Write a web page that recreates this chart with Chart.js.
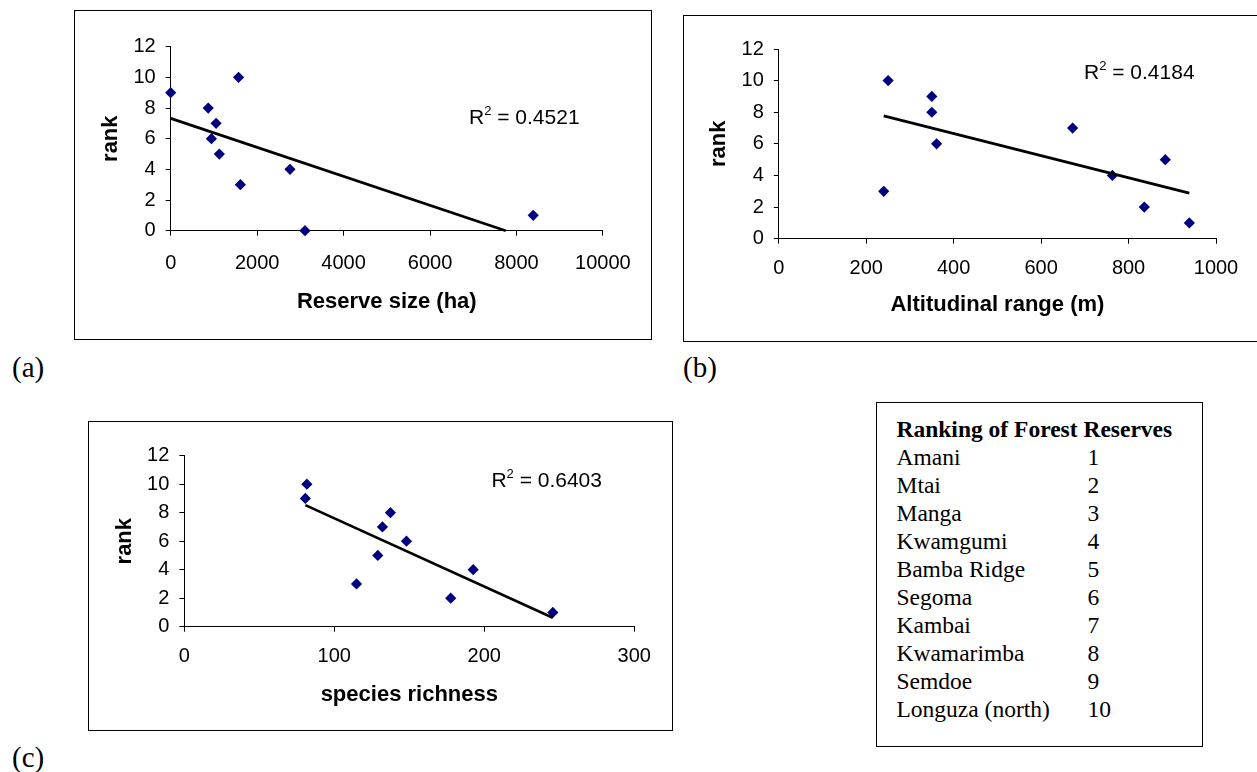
<!DOCTYPE html>
<html>
<head>
<meta charset="utf-8">
<script src="https://cdn.jsdelivr.net/npm/chart.js@4.4.1/dist/chart.umd.min.js"></script>
<style>
html,body{margin:0;padding:0;background:#fff;}
body{width:1257px;height:772px;overflow:hidden;position:relative;}
.frame{position:absolute;border:1.5px solid #000;box-sizing:border-box;pointer-events:none;}
.r2{position:absolute;font-family:"Liberation Sans",Arial,sans-serif;font-size:21px;line-height:24px;white-space:nowrap;color:#000;}
.r2 sup{font-size:13px;line-height:0;vertical-align:9px;}
.panelLabel{position:absolute;font-family:"Liberation Serif","Times New Roman",serif;font-size:29px;line-height:32px;color:#000;}
#legendBox{position:absolute;left:876px;top:402px;width:327px;height:345px;border:1.5px solid #000;box-sizing:border-box;
  padding:12.4px 0 0 19.5px;font-family:"Liberation Serif","Times New Roman",serif;font-size:23.5px;line-height:28px;color:#000;}
#legendBox .ttl{font-weight:bold;white-space:nowrap;}
#legendBox .row{white-space:nowrap;}
#legendBox .nm{display:inline-block;width:191px;}
</style>
</head>
<body>
<script>
// ---------- data ----------
const reserveSizeHa     = [0, 868, 942, 1050, 1125, 1570, 1612, 2760, 3107, 8388];
const rankBySize        = [9, 8, 6, 7, 5, 10, 3, 4, 0, 1];

const altitudinalRangeM = [250, 240, 350, 350, 361, 672, 763, 836, 884, 939];
const rankByAltitude    = [10, 3, 9, 8, 6, 7, 4, 2, 5, 1];

const speciesRichness   = [81.7, 80.7, 137.4, 132.1, 148.1, 129, 192.6, 114.8, 177.6, 245.7];
const rankByRichness    = [10, 9, 8, 7, 6, 5, 4, 3, 2, 1];

const r2Values = ['0.4521', '0.4184', '0.6403'];
const xTitles  = ['Reserve size (ha)', 'Altitudinal range (m)', 'species richness'];
const yTitle   = 'rank';
const xMaxes   = [10000, 1000, 300];
const xSteps   = [2000, 200, 100];
const yMax = 12, yStep = 2;

const tableTitle   = 'Ranking of Forest Reserves';
const reserveNames = ['Amani','Mtai','Manga','Kwamgumi','Bamba Ridge','Segoma','Kambai','Kwamarimba','Semdoe','Longuza (north)'];
const reserveRanks = [1, 2, 3, 4, 5, 6, 7, 8, 9, 10];
const panelLetters = ['(a)', '(b)', '(c)'];

// ---------- layout (page pixels) ----------
const layouts = [
  {box:{l:74,t:10,r:652,b:340}, plot:{l:170.7,t:46.7,r:602.9,b:230.7}, rankX:110.7, xTickY:263, xTitleY:301.7, r2:{x:469,y:117}},
  {box:{l:683,t:15,r:1262,b:342}, plot:{l:778.8,t:49,r:1216,b:238.7}, rankX:718.6, xTickY:268, xTitleY:305, r2:{x:1084,y:71.7}},
  {box:{l:88,t:421,r:673,b:731}, plot:{l:184.3,t:455.7,r:634.3,b:626.7}, rankX:125, xTickY:656.7, xTitleY:695, r2:{x:491.4,y:480}}
];
const letterPos = [{x:12,y:370},{x:683,y:370},{x:12,y:760}];

Chart.defaults.font.family = '"Liberation Sans", Arial, sans-serif';
Chart.defaults.color = '#000';

function linearFit(xs, ys) {
  const n = xs.length;
  const mx = xs.reduce((a,b)=>a+b,0)/n, my = ys.reduce((a,b)=>a+b,0)/n;
  let sxy = 0, sxx = 0;
  for (let i = 0; i < n; i++) { sxy += (xs[i]-mx)*(ys[i]-my); sxx += (xs[i]-mx)*(xs[i]-mx); }
  const m = sxy/sxx;
  return {m, b: my - m*mx};
}
function trendPoints(xs, ys) {
  const f = linearFit(xs, ys);
  let x0 = Math.min(...xs), x1 = Math.max(...xs);
  let y0 = f.m*x0 + f.b, y1 = f.m*x1 + f.b;
  if (y1 < 0) { x1 = -f.b / f.m; y1 = 0; }
  if (y0 < 0) { x0 = -f.b / f.m; y0 = 0; }
  return [{x:x0, y:y0}, {x:x1, y:y1}];
}

function makePanel(i, xs, ys) {
  const L = layouts[i];
  const W = L.box.r - L.box.l, H = L.box.b - L.box.t;
  const cv = document.createElement('canvas');
  cv.width = W; cv.height = H;
  cv.style.cssText = `position:absolute;left:${L.box.l}px;top:${L.box.t}px;width:${W}px;height:${H}px;`;
  document.body.appendChild(cv);
  const fr = document.createElement('div');
  fr.className = 'frame';
  fr.style.cssText = `left:${L.box.l}px;top:${L.box.t}px;width:${W}px;height:${H}px;`;
  document.body.appendChild(fr);

  const yAxisW = L.plot.l - L.box.l;
  const xAxisH = L.box.b - L.plot.b;
  const tickFont = {size:20, lineHeight:1.2};
  const titleFont = {size:22, weight:'bold', lineHeight:1.2};
  const plain = v => String(v);

  new Chart(cv, {
    type: 'scatter',
    data: {
      datasets: [
        {type:'line', data: trendPoints(xs, ys), borderColor:'#000', borderWidth:2.7, pointRadius:0,
         pointHoverRadius:0, fill:false, tension:0, order:0, clip:false},
        {type:'scatter', data: xs.map((x,k)=>({x, y: ys[k]})), pointStyle:'rectRot', pointRadius:5.6, pointHoverRadius:5.6,
         backgroundColor:'#000080', borderColor:'#000080', borderWidth:0, order:1, clip:false}
      ]
    },
    options: {
      responsive:false, animation:false, devicePixelRatio:1, events:[],
      layout:{padding:{left:0, top:L.plot.t - L.box.t, right:L.box.r - L.plot.r, bottom:0}},
      plugins:{legend:{display:false}, tooltip:{enabled:false}, title:{display:false}},
      scales:{
        x:{type:'linear', position:'bottom', min:0, max:xMaxes[i],
          ticks:{stepSize:xSteps[i], autoSkip:false, maxRotation:0, minRotation:0, color:'#000', font:tickFont,
                 padding: L.xTickY - L.plot.b - 5 - 12, callback: plain},
          grid:{drawOnChartArea:false, drawTicks:true, tickLength:5, color:'#000', lineWidth:1},
          border:{display:true, color:'#000', width:1},
          title:{display:true, text:xTitles[i], color:'#000', font:titleFont,
                 padding:{top:0, bottom: L.box.b - L.xTitleY - 13.2}},
          afterFit(s){ s.height = xAxisH; }
        },
        y:{type:'linear', position:'left', min:0, max:yMax,
          ticks:{stepSize:yStep, autoSkip:false, color:'#000', font:tickFont, padding:10, callback: plain},
          grid:{drawOnChartArea:false, drawTicks:true, tickLength:5, color:'#000', lineWidth:1},
          border:{display:true, color:'#000', width:1},
          title:{display:true, text:yTitle, color:'#000', font:titleFont,
                 padding:{top: L.rankX - L.box.l - 13.2, bottom:0}},
          afterFit(s){ s.width = yAxisW; }
        }
      }
    }
  });

  const r2 = document.createElement('div');
  r2.className = 'r2';
  r2.style.left = L.r2.x + 'px';
  r2.style.top = (L.r2.y - 11.7) + 'px';
  r2.innerHTML = 'R<sup>2</sup> = ' + r2Values[i];
  document.body.appendChild(r2);

  const lab = document.createElement('div');
  lab.className = 'panelLabel';
  lab.style.left = letterPos[i].x + 'px';
  lab.style.top = (letterPos[i].y - 18.6) + 'px';
  lab.textContent = panelLetters[i];
  document.body.appendChild(lab);
}

makePanel(0, reserveSizeHa, rankBySize);
makePanel(1, altitudinalRangeM, rankByAltitude);
makePanel(2, speciesRichness, rankByRichness);

// ranking table
const box = document.createElement('div');
box.id = 'legendBox';
const t = document.createElement('div');
t.className = 'ttl';
t.textContent = tableTitle;
box.appendChild(t);
reserveNames.forEach((nm, k) => {
  const row = document.createElement('div');
  row.className = 'row';
  const a = document.createElement('span'); a.className = 'nm'; a.textContent = nm;
  const b = document.createElement('span'); b.textContent = String(reserveRanks[k]);
  row.appendChild(a); row.appendChild(b);
  box.appendChild(row);
});
document.body.appendChild(box);
</script>
</body>
</html>
